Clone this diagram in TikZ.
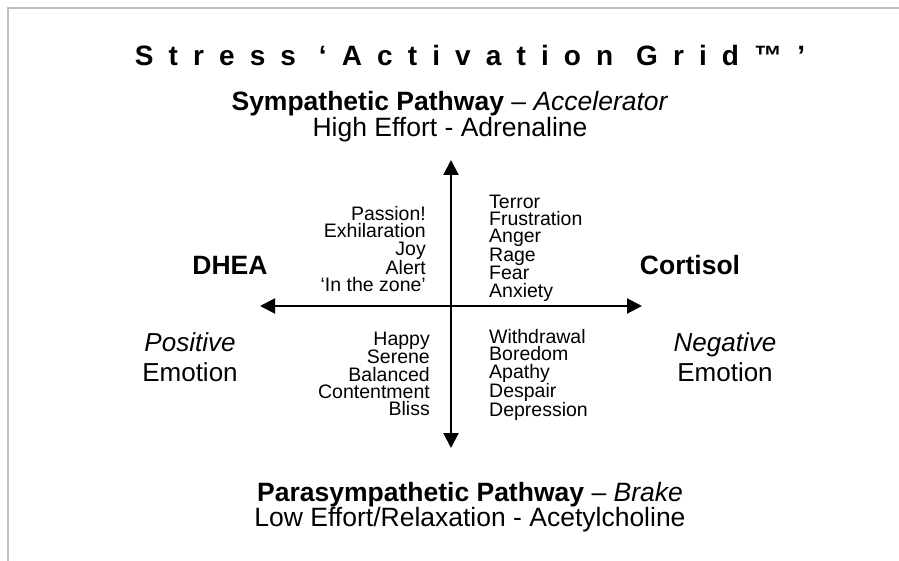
\documentclass[tikz,border=0pt]{standalone}
\usepackage{fontspec}
\setmainfont{Liberation Sans}
\usetikzlibrary{arrows.meta}

\begin{document}
\begin{tikzpicture}[x=1pt,y=-1pt,
  axis/.style={line width=2pt,{Triangle[length=15pt,width=15pt]}-{Triangle[length=15pt,width=15pt]}},
  big/.style={font=\fontsize{26.5}{26}\selectfont,align=center,inner sep=0pt},
  words/.style={font=\fontsize{19.5}{17.3}\selectfont,inner sep=0pt},
  frame/.style={draw=black!25,line width=1.5pt}]

\useasboundingbox (0,0) rectangle (899,561);

\coordinate (TL) at (8,8);
\coordinate (TR) at (899,8);
\coordinate (BL) at (8,561);
\draw[frame] (TR)--(TL)--(BL);

\coordinate (N) at (451,160);
\coordinate (S) at (451,448);
\coordinate (W) at (260,306);
\coordinate (E) at (642,306);
\draw[axis] (S)--(N);
\draw[axis] (W)--(E);

\node[big,font=\fontsize{28}{28}\selectfont] (title) at (470,55) {\bfseries\addfontfeature{LetterSpace=54}Stress ‘Activation Grid™’};
\node[big] (symp) at (450,117) {\textbf{Sympathetic Pathway} – \textit{Accelerator}\\High Effort - Adrenaline};
\node[big,font=\fontsize{26.5}{24}\selectfont] (para) at (470,507) {\textbf{Parasympathetic Pathway} – \textit{Brake}\\Low Effort/Relaxation - Acetylcholine};

\node[big] (dhea) at (230,265) {\bfseries DHEA};
\node[big] (cort) at (690,265) {\bfseries Cortisol};
\node[big,font=\fontsize{26}{30}\selectfont] (pos) at (190,357) {\textit{Positive}\\Emotion};
\node[big,font=\fontsize{26}{30}\selectfont] (neg) at (725,357) {\textit{Negative}\\Emotion};

\node[words,anchor=east,align=right] (ul) at (426,249) {Passion!\\Exhilaration\\Joy\\Alert\\‘In the zone’};
\node[words,anchor=west,align=left] (ur) at (489,248) {Terror\\Frustration\\Anger\\Rage\\Fear\\Anxiety};
\node[words,anchor=east,align=right] (ll) at (430,374) {Happy\\Serene\\Balanced\\Contentment\\Bliss};
\node[words,anchor=west,align=left] (lr) at (489,375) {Withdrawal\\Boredom\\Apathy\\Despair\\Depression};

\end{tikzpicture}
\end{document}
